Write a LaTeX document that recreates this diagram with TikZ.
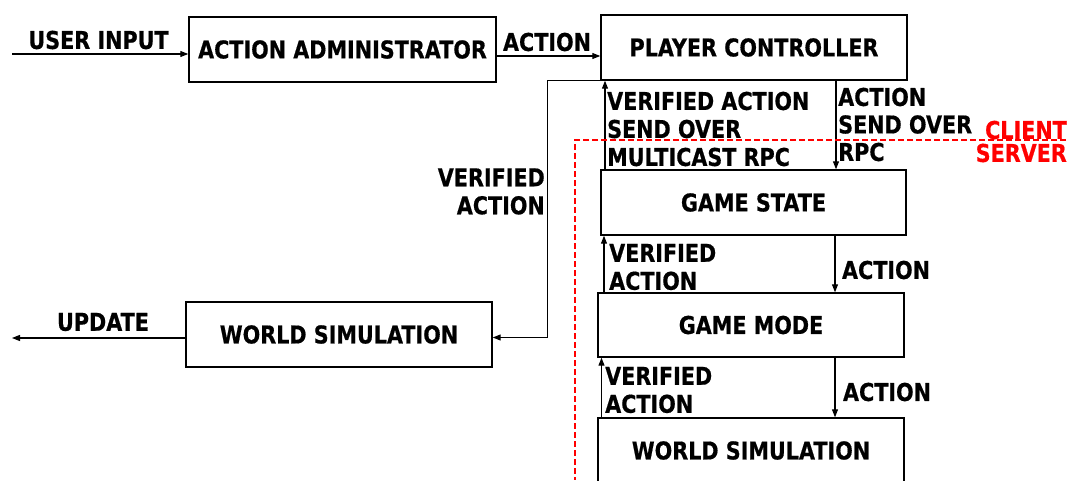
\documentclass[tikz,border=0pt]{standalone}
\usepackage{fontspec}
\setmainfont{DejaVu Sans}[FakeStretch=0.845,BoldFeatures={FakeBold=0.6}]
\usetikzlibrary{arrows.meta}
\begin{document}
\begin{tikzpicture}[x=1pt,y=-1pt,
  box/.style={draw=black,line width=1.4pt,minimum width=306pt,minimum height=65pt,inner sep=0pt,font=\bfseries\fontsize{24.5}{28}\selectfont},
  lbl/.style={inner sep=0pt,font=\bfseries\fontsize{24.5}{28}\selectfont},
  arr/.style={line width=1.1pt,-{Triangle[length=8pt,width=6pt]}},
  red lbl/.style={inner sep=0pt,text=red,font=\bfseries\fontsize{24.5}{23}\selectfont,align=right}]
\useasboundingbox (0,0) rectangle (1070,480);
% boxes
\node[box,minimum width=307pt] (aa) at (342.5,49.5) {ACTION ADMINISTRATOR};
\node[box] (pc) at (754,47.5) {PLAYER CONTROLLER};
\node[box,minimum width=305pt] (gs) at (753.5,202.5) {GAME STATE};
\node[box,minimum height=64pt] (gm) at (751,325) {GAME MODE};
\node[box] (wsr) at (751,450.5) {WORLD SIMULATION};
\node[box] (wsl) at (339,334.5) {WORLD SIMULATION};
% free ends
\coordinate (ui) at (12,54);
\coordinate (up) at (12,338);
% connectors
\draw[arr] (ui) -- (ui -| aa.west);
\draw[arr] ([yshift=-6.5pt]aa.east) -- ([yshift=-6.5pt]aa.east -| pc.west);
\draw[arr] (pc.south -| 836,0) -- (gs.north -| 836,0);
\draw[arr] (gs.north -| 605,0) -- (pc.south -| 605,0);
\draw[arr] (gs.south -| 835,0) -- (gm.north -| 835,0);
\draw[arr] (gm.north -| 604,0) -- (gs.south -| 604,0);
\draw[arr] (gm.south -| 835,0) -- (wsr.north -| 835,0);
\draw[arr] (wsr.north -| 601.5,0) -- (gm.south -| 601.5,0);
\draw[arr] (pc.south west) -- ++(-53,0) |- ([yshift=-3pt]wsl.east);
\draw[arr] (wsl.west |- up) -- (up);
% labels
\node[lbl] (l1) at (98.5,40) {USER INPUT};
\node[lbl] (l2) at (547,42) {ACTION};
\node[lbl,align=left,anchor=west] (l3) at (607,129) {VERIFIED ACTION\\SEND OVER\\MULTICAST RPC};
\node[lbl,align=left,anchor=west,font=\bfseries\fontsize{24.5}{27.5}\selectfont] (l4) at (838,124.5) {ACTION\\SEND OVER\\RPC};
\node[lbl,align=right,anchor=east] (l5) at (545,191.5) {VERIFIED\\ACTION};
\node[lbl,align=left,anchor=west] (l6) at (609,267) {VERIFIED\\ACTION};
\node[lbl] (l7) at (886,270) {ACTION};
\node[lbl,align=left,anchor=west] (l8) at (605,390) {VERIFIED\\ACTION};
\node[lbl] (l9) at (887,392) {ACTION};
\node[lbl] (l10) at (103,322) {UPDATE};
% client/server
\node[red lbl,anchor=east] (cs) at (1067,141.5) {CLIENT\\SERVER};
\draw[red,line width=1.2pt,dash pattern=on 6pt off 3pt] (1066,140) -- (575,140) -- (575,480);
\end{tikzpicture}
\end{document}
